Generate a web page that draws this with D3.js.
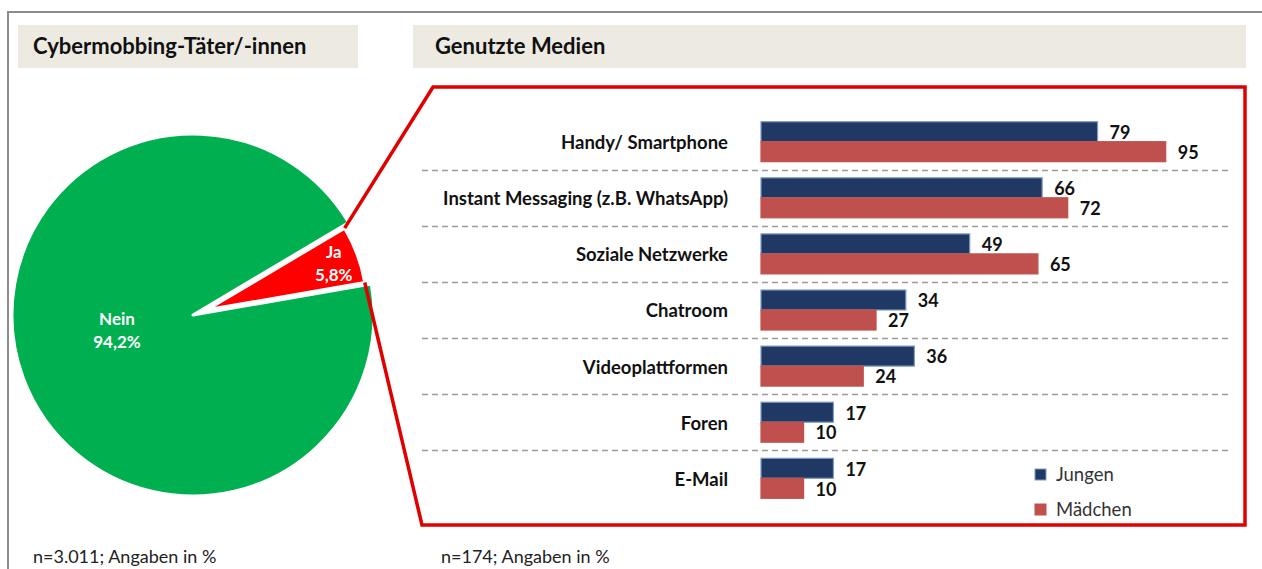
<!DOCTYPE html>
<html lang="de">
<head>
<meta charset="utf-8">
<script src="https://cdn.jsdelivr.net/npm/d3@7"></script>
<style>
  html, body { margin: 0; padding: 0; background: #fff; }
  svg { display: block; font-family: Lato, "Open Sans", "DejaVu Sans", sans-serif; }
</style>
</head>
<body>
<svg id="chart" width="1262" height="569"></svg>
<script>
// Pie: Cybermobbing-Täter/-innen
const pieLabels = ["Ja", "Nein"];
const pieValues = [5.8, 94.2];

// Bars: genutzte Medien
const categories = [
  "Handy/ Smartphone",
  "Instant Messaging (z.B. WhatsApp)",
  "Soziale Netzwerke",
  "Chatroom",
  "Videoplattformen",
  "Foren",
  "E-Mail"
];
const seriesNames = ["Jungen", "Mädchen"];
const jungen  = [79, 66, 49, 34, 36, 17, 17];
const maedchen = [95, 72, 65, 27, 24, 10, 10];

const titles = ["Cybermobbing-Täter/-innen", "Genutzte Medien"];
const notes = ["n=3.011; Angaben in %", "n=174; Angaben in %"];

const svg = d3.select("#chart");
const fmt = v => String(v).replace(".", ",");

// outer frame (top + left rule)
svg.append("path")
  .attr("d", "M8,569 L8,12 L1262,12")
  .attr("fill", "none").attr("stroke", "#8c8c8c").attr("stroke-width", 2);

// title bars
const titleBoxes = [{x: 18, w: 340, tx: 33}, {x: 413, w: 833, tx: 435}];
titleBoxes.forEach((b, i) => {
  svg.append("rect").attr("x", b.x).attr("y", 25).attr("width", b.w).attr("height", 43)
    .attr("fill", "#ECEAE1");
  svg.append("text").attr("x", b.tx).attr("y", 54)
    .attr("font-size", 22).attr("font-weight", 700).attr("fill", "#111")
    .text(titles[i]);
});

// ---- pie ----
const cx = 193, cy = 315, R = 181, rExploded = 160, explode = 15;
const toRad = Math.PI / 180;
const pie = d3.pie().sort(null).value(d => d)
  .startAngle(59.3 * toRad).endAngle((59.3 + 360) * toRad);
const arcs = pie(pieValues);
const pieColors = ["#FF0000", "#00B050"];

const gPie = svg.append("g").attr("transform", `translate(${cx},${cy})`);
const arcMain = d3.arc().innerRadius(0).outerRadius(R);
const arcJa = d3.arc().innerRadius(0).outerRadius(rExploded);

const jaArc = arcs[0];
const jaMid = (jaArc.startAngle + jaArc.endAngle) / 2;
const jaOff = [Math.sin(jaMid) * explode, -Math.cos(jaMid) * explode];

// callout from exploded slice to the bar panel
const corner = a => [cx + jaOff[0] + Math.sin(a) * rExploded, cy + jaOff[1] - Math.cos(a) * rExploded];
const cA = corner(jaArc.startAngle), cB = corner(jaArc.endAngle);
svg.append("path")
  .attr("d", d3.line()([cA, [433, 87], [1245, 87], [1245, 525], [422, 525], cB]))
  .attr("fill", "none").attr("stroke", "#E00000").attr("stroke-width", 3.5)
  .attr("stroke-linejoin", "miter");

gPie.append("path").attr("d", arcMain(arcs[1]))
  .attr("fill", pieColors[1]).attr("stroke", "#fff").attr("stroke-width", 3).attr("stroke-linejoin", "round");
gPie.append("path").attr("d", arcJa(jaArc))
  .attr("transform", `translate(${jaOff[0]},${jaOff[1]})`)
  .attr("fill", pieColors[0]).attr("stroke", "#fff").attr("stroke-width", 3).attr("stroke-linejoin", "round");

// pie labels
const pieLabelPos = [
  [Math.sin(jaMid) * 150, -Math.cos(jaMid) * 150],
  [-76, 15]
];
arcs.forEach((a, i) => {
  const t = gPie.append("text")
    .attr("text-anchor", "middle").attr("fill", "#fff")
    .attr("font-size", 17).attr("font-weight", 700)
    .attr("transform", `translate(${pieLabelPos[i][0]},${pieLabelPos[i][1]})`);
  t.append("tspan").attr("x", 0).attr("y", -5).text(pieLabels[i]);
  t.append("tspan").attr("x", 0).attr("y", 18).text(fmt(pieValues[i]) + "%");
});

// ---- bars ----
const x = d3.scaleLinear().domain([0, 100]).range([761, 1187]);
const y = d3.scaleBand().domain(categories).range([105.6, 514.4]).padding(0.287);
const ySub = d3.scaleBand().domain(seriesNames).range([0, y.bandwidth()]);
const barColors = {Jungen: "#1F3864", "Mädchen": "#C0504D"};
const barStroke = {Jungen: "#7F9BC2", "Mädchen": "#C0504D"};
const seriesValues = {Jungen: jungen, "Mädchen": maedchen};

// dashed separators between categories
const gap = y.step() - y.bandwidth();
svg.append("g").selectAll("line")
  .data(categories.slice(0, -1))
  .join("line")
  .attr("x1", 422).attr("x2", 1228)
  .attr("y1", d => Math.round(y(d) + y.bandwidth() + gap / 2) + 0.5)
  .attr("y2", d => Math.round(y(d) + y.bandwidth() + gap / 2) + 0.5)
  .attr("stroke", "#9a9a9a").attr("stroke-width", 1.6).attr("stroke-dasharray", "6,4");

// category labels
svg.append("g").selectAll("text")
  .data(categories)
  .join("text")
  .attr("x", 728).attr("y", d => y(d) + y.bandwidth() / 2 + 1)
  .attr("dy", "0.35em").attr("text-anchor", "end")
  .attr("font-size", 18.5).attr("font-weight", 700).attr("fill", "#111")
  .text(d => d);

const rows = [];
categories.forEach((c, i) => seriesNames.forEach(s => rows.push({c, s, v: seriesValues[s][i]})));

svg.append("g").selectAll("rect")
  .data(rows)
  .join("rect")
  .attr("x", x(0))
  .attr("y", d => y(d.c) + ySub(d.s))
  .attr("width", d => x(d.v) - x(0))
  .attr("height", ySub.bandwidth())
  .attr("fill", d => barColors[d.s])
  .attr("stroke", d => barStroke[d.s]).attr("stroke-width", 1.2);

svg.append("g").selectAll("text")
  .data(rows)
  .join("text")
  .attr("x", d => x(d.v) + 12)
  .attr("y", d => y(d.c) + ySub(d.s) + ySub.bandwidth() / 2 + 1)
  .attr("dy", "0.35em")
  .attr("font-size", 18).attr("font-weight", 700).attr("fill", "#111")
  .text(d => d.v);

// legend
const legend = svg.append("g").selectAll("g")
  .data(seriesNames)
  .join("g")
  .attr("transform", (d, i) => `translate(1035,${474.5 + i * 35})`);
legend.append("rect").attr("x", 0).attr("y", -5.5).attr("width", 11).attr("height", 11)
  .attr("fill", d => barColors[d]).attr("stroke", d => barStroke[d]).attr("stroke-width", 1);
legend.append("text").attr("x", 21).attr("y", 0).attr("dy", "0.35em")
  .attr("font-size", 18.5).attr("fill", "#333").text(d => d);

// footnotes
[33, 441].forEach((nx, i) => {
  svg.append("text").attr("x", nx).attr("y", 563)
    .attr("font-size", 18).attr("fill", "#222").text(notes[i]);
});
</script>
</body>
</html>
